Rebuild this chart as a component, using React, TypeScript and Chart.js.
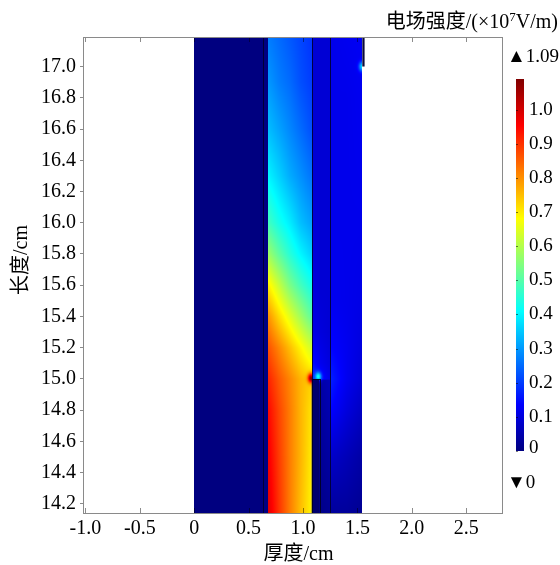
import React, { useEffect, useRef } from "react";
import { Chart, registerables } from "chart.js";

Chart.register(...registerables);

// ---------- axes ----------
const X_MIN = -1.022;
const X_MAX = 2.829;
const Y_MIN = 14.142;
const Y_MAX = 17.189;
const X_TICKS = [-1.0, -0.5, 0, 0.5, 1.0, 1.5, 2.0, 2.5];
const Y_TICKS = [14.2, 14.4, 14.6, 14.8, 15.0, 15.2, 15.4, 15.6, 15.8, 16.0, 16.2, 16.4, 16.6, 16.8, 17.0];
const CBAR_TICKS = [0, 0.1, 0.2, 0.3, 0.4, 0.5, 0.6, 0.7, 0.8, 0.9, 1.0];
const CBAR_MIN = 0;
const CBAR_MAX = 1.09;

// ---------- field (electric field strength, x10^7 V/m) ----------
// layer A: insulating layer 0 .. 0.678 cm
const A_X = [0, 0.678];
const A_Y = [Y_MIN, Y_MAX];
const A_V = [
  [0, 0],
  [0, 0],
];

// layer C: 0.678 .. 1.08 cm
const C_X = [0.678, 0.78, 0.88, 0.98, 1.08];
const C_Y = [14.142, 14.5, 14.8, 15.0, 15.2, 15.4, 15.6, 15.8, 16.0, 16.3, 16.6, 16.9, 17.189];
const C_V = [
  [0.99, 0.9, 0.82, 0.75, 0.69],
  [0.97, 0.89, 0.82, 0.76, 0.7],
  [0.95, 0.88, 0.82, 0.76, 0.71],
  [0.92, 0.86, 0.81, 0.76, 0.73],
  [0.87, 0.81, 0.75, 0.69, 0.63],
  [0.8, 0.72, 0.65, 0.58, 0.51],
  [0.7, 0.62, 0.54, 0.48, 0.43],
  [0.58, 0.51, 0.45, 0.4, 0.36],
  [0.48, 0.43, 0.39, 0.34, 0.31],
  [0.4, 0.36, 0.32, 0.29, 0.26],
  [0.34, 0.31, 0.28, 0.25, 0.22],
  [0.3, 0.27, 0.25, 0.22, 0.2],
  [0.27, 0.25, 0.23, 0.21, 0.19],
];
const C_HOT = [{ x: 1.075, y: 15.005, v: 1.09, r: 0.03 }];

// layer D: 1.08 .. 1.247 cm
const D_X = [1.08, 1.16, 1.247];
const D_Y = [14.142, 14.99, 15.0, 15.1, 15.3, 15.6, 16.5, 17.189];
const D_V = [
  [0.0, 0.01, 0.02],
  [0.0, 0.04, 0.06],
  [0.2, 0.15, 0.11],
  [0.15, 0.12, 0.1],
  [0.11, 0.1, 0.09],
  [0.1, 0.09, 0.09],
  [0.09, 0.09, 0.09],
  [0.09, 0.09, 0.09],
];
const D_HOT = [{ x: 1.14, y: 15.015, v: 0.42, r: 0.028 }];

// layer E: 1.247 .. 1.545 cm
const E_X = [1.247, 1.4, 1.545];
const E_Y = [14.142, 14.5, 14.8, 15.0, 15.2, 15.5, 16.0, 16.8, 17.189];
const E_V = [
  [0.03, 0.03, 0.02],
  [0.08, 0.06, 0.04],
  [0.14, 0.1, 0.07],
  [0.17, 0.12, 0.09],
  [0.14, 0.12, 0.1],
  [0.12, 0.115, 0.11],
  [0.115, 0.115, 0.115],
  [0.115, 0.115, 0.12],
  [0.115, 0.12, 0.125],
];
const E_HOT = [{ x: 1.545, y: 17.0, v: 0.38, r: 0.03 }];

// boundaries / electrodes
const BOUNDARY_X = [0.63, 1.08, 1.247];
const ELECTRODE_X = [1.08, 1.15];
const ELECTRODE_Y = [Y_MIN, 15.0];
const TOP_ELECTRODE_X = [1.545, 1.566];
const TOP_ELECTRODE_Y = [17.0, Y_MAX];

const ZONES = [
  { xs: A_X, ys: A_Y, vs: A_V, hot: [] as any[] },
  { xs: C_X, ys: C_Y, vs: C_V, hot: C_HOT },
  { xs: D_X, ys: D_Y, vs: D_V, hot: D_HOT },
  { xs: E_X, ys: E_Y, vs: E_V, hot: E_HOT },
];

const SERIF = "'Liberation Serif', 'Times New Roman', 'Noto Sans CJK SC', serif";

const clamp = (v: number, a: number, b: number) => Math.max(a, Math.min(b, v));

function jet(v: number): [number, number, number] {
  const t = clamp((v - CBAR_MIN) / (CBAR_MAX - CBAR_MIN), 0, 1);
  const r = clamp(Math.min(4 * t - 1.5, -4 * t + 4.5), 0, 1);
  const g = clamp(Math.min(4 * t - 0.5, -4 * t + 3.5), 0, 1);
  const b = clamp(Math.min(4 * t + 0.5, -4 * t + 2.5), 0, 1);
  return [Math.round(r * 255), Math.round(g * 255), Math.round(b * 255)];
}

function sampleZone(z: any, x: number, y: number): number {
  const { xs, ys, vs } = z;
  let i = 0;
  while (i < xs.length - 2 && x > xs[i + 1]) i++;
  let j = 0;
  while (j < ys.length - 2 && y > ys[j + 1]) j++;
  const tx = clamp((x - xs[i]) / (xs[i + 1] - xs[i]), 0, 1);
  const ty = clamp((y - ys[j]) / (ys[j + 1] - ys[j]), 0, 1);
  const v00 = vs[j][i], v10 = vs[j][i + 1], v01 = vs[j + 1][i], v11 = vs[j + 1][i + 1];
  let v = (v00 * (1 - tx) + v10 * tx) * (1 - ty) + (v01 * (1 - tx) + v11 * tx) * ty;
  for (const h of z.hot) {
    const d2 = ((x - h.x) ** 2 + (y - h.y) ** 2) / (h.r * h.r);
    const w = Math.exp(-d2);
    if (h.v > v) v = v + (h.v - v) * w;
  }
  return v;
}

function fieldValue(x: number, y: number): number | null {
  for (const z of ZONES) {
    if (x >= z.xs[0] && x < z.xs[z.xs.length - 1] && y >= z.ys[0] - 1e-6 && y <= z.ys[z.ys.length - 1] + 1e-6) {
      return sampleZone(z, x, y);
    }
  }
  return null;
}

const fieldPlugin = {
  id: "field",
  beforeDatasetsDraw(chart: any) {
    const { ctx, chartArea: a, scales } = chart;
    const xs = scales.x, ys = scales.y;
    const w = Math.round(a.right - a.left);
    const h = Math.round(a.bottom - a.top);
    const img = ctx.createImageData(w, h);
    for (let j = 0; j < h; j++) {
      const yv = ys.getValueForPixel(a.top + j + 0.5);
      for (let i = 0; i < w; i++) {
        const xv = xs.getValueForPixel(a.left + i + 0.5);
        const v = fieldValue(xv, yv);
        const k = (j * w + i) * 4;
        if (v === null) {
          img.data[k + 3] = 0;
          continue;
        }
        const [r, g, b] = jet(v);
        img.data[k] = r;
        img.data[k + 1] = g;
        img.data[k + 2] = b;
        img.data[k + 3] = 255;
      }
    }
    const off = document.createElement("canvas");
    off.width = w;
    off.height = h;
    (off.getContext("2d") as CanvasRenderingContext2D).putImageData(img, 0, 0);
    ctx.save();
    ctx.drawImage(off, a.left, a.top);

    // boundaries
    ctx.strokeStyle = "rgba(0,0,40,0.85)";
    ctx.lineWidth = 1;
    for (const bx of BOUNDARY_X) {
      const px = Math.round(xs.getPixelForValue(bx)) + 0.5;
      ctx.beginPath();
      ctx.moveTo(px, a.top);
      ctx.lineTo(px, a.bottom);
      ctx.stroke();
    }
    // lower electrode
    const ex0 = xs.getPixelForValue(ELECTRODE_X[0]);
    const ex1 = xs.getPixelForValue(ELECTRODE_X[1]);
    const ey0 = ys.getPixelForValue(ELECTRODE_Y[0]);
    const ey1 = ys.getPixelForValue(ELECTRODE_Y[1]);
    const [nr, ng, nb] = jet(0);
    ctx.fillStyle = `rgb(${nr},${ng},${Math.round(nb * 0.85)})`;
    ctx.fillRect(ex0, ey1, ex1 - ex0, ey0 - ey1);
    ctx.strokeStyle = "rgba(0,0,30,0.9)";
    ctx.strokeRect(Math.round(ex0) + 0.5, Math.round(ey1) + 0.5, Math.round(ex1 - ex0), Math.round(ey0 - ey1));
    // top electrode
    const tx0 = xs.getPixelForValue(TOP_ELECTRODE_X[0]);
    const tx1 = xs.getPixelForValue(TOP_ELECTRODE_X[1]);
    const ty0 = ys.getPixelForValue(TOP_ELECTRODE_Y[0]);
    const ty1 = ys.getPixelForValue(TOP_ELECTRODE_Y[1]);
    ctx.fillStyle = "rgb(10,10,60)";
    ctx.fillRect(tx0, ty1, tx1 - tx0, ty0 - ty1);
    ctx.restore();
  },
  afterDatasetsDraw(chart: any) {
    const { ctx, chartArea: a, scales } = chart;
    ctx.save();
    // inward x ticks (top and bottom)
    ctx.strokeStyle = "rgba(0,0,0,0.45)";
    ctx.lineWidth = 1;
    for (const t of X_TICKS) {
      const px = Math.round(scales.x.getPixelForValue(t)) + 0.5;
      ctx.beginPath();
      ctx.moveTo(px, a.bottom);
      ctx.lineTo(px, a.bottom - 5);
      ctx.moveTo(px, a.top);
      ctx.lineTo(px, a.top + 5);
      ctx.stroke();
    }
    // frame
    ctx.strokeStyle = "#8a8a8a";
    ctx.strokeRect(Math.round(a.left) + 0.5, Math.round(a.top) + 0.5, Math.round(a.right - a.left), Math.round(a.bottom - a.top));
    ctx.restore();
  },
  afterDraw(chart: any) {
    const { ctx, chartArea: a } = chart;
    ctx.save();
    ctx.fillStyle = "#000";
    // axis titles
    ctx.font = `20px ${SERIF}`;
    ctx.textAlign = "center";
    ctx.textBaseline = "middle";
    ctx.fillText("厚度/cm", (a.left + a.right) / 2 + 6, 555);
    ctx.save();
    ctx.translate(22, (a.top + a.bottom) / 2 - 15);
    ctx.rotate(-Math.PI / 2);
    ctx.fillText("长度/cm", 0, 0);
    ctx.restore();

    // colour-bar title, right aligned
    const big = `20px ${SERIF}`;
    const small = `13px ${SERIF}`;
    const parts = [
      { t: "电场强度/(×10", f: big, dy: 0 },
      { t: "7", f: small, dy: -7 },
      { t: "V/m)", f: big, dy: 0 },
    ];
    let total = 0;
    for (const p of parts) {
      ctx.font = p.f;
      total += ctx.measureText(p.t).width;
    }
    let x = 558 - total;
    ctx.textAlign = "left";
    ctx.textBaseline = "alphabetic";
    for (const p of parts) {
      ctx.font = p.f;
      ctx.fillText(p.t, x, 28 + p.dy);
      x += ctx.measureText(p.t).width;
    }

    // colour bar
    const cbL = 516, cbR = 524, cbTop = 79, cbBot = 451;
    const valToPx = (v: number) => cbBot - ((v - CBAR_MIN) / (CBAR_MAX - CBAR_MIN)) * (cbBot - cbTop);
    const grad = ctx.createLinearGradient(0, cbBot, 0, cbTop);
    for (let s = 0; s <= 40; s++) {
      const v = CBAR_MIN + ((CBAR_MAX - CBAR_MIN) * s) / 40;
      const [r, g, b] = jet(v);
      grad.addColorStop(s / 40, `rgb(${r},${g},${b})`);
    }
    ctx.fillStyle = grad;
    ctx.fillRect(cbL, cbTop, cbR - cbL, cbBot - cbTop);
    ctx.strokeStyle = "rgba(0,0,0,0.5)";
    ctx.font = `19px ${SERIF}`;
    ctx.fillStyle = "#000";
    ctx.textBaseline = "middle";
    for (const t of CBAR_TICKS) {
      const py = Math.round(valToPx(t)) + 0.5;
      ctx.beginPath();
      ctx.moveTo(cbL, py);
      ctx.lineTo(cbL + 2, py);
      ctx.stroke();
      ctx.fillText(t === 0 ? "0" : t.toFixed(1), 529, t === 0 ? py - 3 : py);
    }
    ctx.font = `19px ${SERIF}`;
    ctx.fillText("▲" + CBAR_MAX.toFixed(2), 507, 57);
    ctx.fillText("▼" + String(CBAR_MIN), 507, 483);
    ctx.restore();
  },
};

export default function App() {
  const ref = useRef<HTMLCanvasElement | null>(null);
  useEffect(() => {
    if (!ref.current) return;
    const tickFont = { family: SERIF, size: 20 };
    const chart = new Chart(ref.current, {
      type: "scatter",
      data: { datasets: [{ data: [], showLine: false }] },
      options: {
        animation: false,
        responsive: false,
        devicePixelRatio: 1,
        layout: { padding: { top: 37, right: 58, left: 0, bottom: 0 } },
        plugins: { legend: { display: false }, tooltip: { enabled: false } },
        scales: {
          x: {
            type: "linear",
            min: X_MIN,
            max: X_MAX,
            afterBuildTicks: (ax: any) => {
              ax.ticks = X_TICKS.map((v) => ({ value: v }));
            },
            afterFit: (ax: any) => {
              ax.height = 52;
            },
            ticks: {
              font: tickFont,
              color: "#000",
              padding: 4,
              maxRotation: 0,
              autoSkip: false,
              callback: (v: any) => (Number(v) === 0 ? "0" : Number(v).toFixed(1)),
            },
            grid: { display: false, drawTicks: false },
            border: { display: false },
          },
          y: {
            type: "linear",
            min: Y_MIN,
            max: Y_MAX,
            afterBuildTicks: (ax: any) => {
              ax.ticks = Y_TICKS.map((v) => ({ value: v }));
            },
            afterFit: (ax: any) => {
              ax.width = 83;
            },
            ticks: {
              font: tickFont,
              color: "#000",
              padding: 4,
              autoSkip: false,
              callback: (v: any) => Number(v).toFixed(1),
            },
            grid: { drawOnChartArea: false, drawTicks: true, tickLength: 3, color: "#8a8a8a" },
            border: { display: false },
          },
        },
      },
      plugins: [fieldPlugin],
    } as any);
    return () => chart.destroy();
  }, []);
  return (
    <div style={{ position: "absolute", left: 0, top: 0, width: 560, height: 565, background: "#fff" }}>
      <canvas ref={ref} width={560} height={565} style={{ display: "block", width: 560, height: 565 }} />
    </div>
  );
}
